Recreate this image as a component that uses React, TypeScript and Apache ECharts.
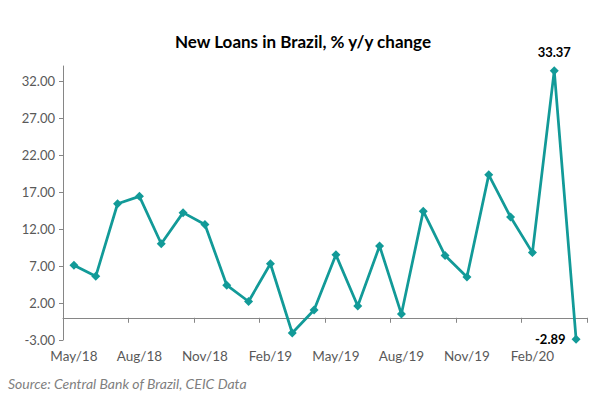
import React, { useEffect, useRef } from "react";
import * as echarts from "echarts";

const categories = [
  "May/18", "Jun/18", "Jul/18", "Aug/18", "Sep/18", "Oct/18", "Nov/18", "Dec/18",
  "Jan/19", "Feb/19", "Mar/19", "Apr/19", "May/19", "Jun/19", "Jul/19", "Aug/19",
  "Sep/19", "Oct/19", "Nov/19", "Dec/19", "Jan/20", "Feb/20", "Mar/20", "Apr/20",
];
const values = [
  7.1, 5.6, 15.4, 16.4, 10.0, 14.2, 12.6, 4.4,
  2.2, 7.3, -2.05, 1.05, 8.5, 1.6, 9.7, 0.5,
  14.4, 8.4, 5.5, 19.3, 13.6, 8.8, 33.37, -2.89,
];
const labelledIndices = [22, 23];
const titleText = "New Loans in Brazil, % y/y change";
const sourceText = "Source: Central Bank of Brazil, CEIC Data";

const COLOR = "#129a98";
const FONT = "Lato, 'Open Sans', sans-serif";

export default function App() {
  const ref = useRef<HTMLDivElement>(null);
  useEffect(() => {
    if (!ref.current) return;
    const chart = echarts.init(ref.current, null, { renderer: "svg" });
    const data = values.map((v, i) => {
      if (!labelledIndices.includes(i)) return v;
      return {
        value: v,
        label: {
          show: true,
          position: v >= 0 ? "top" : "left",
          distance: v >= 0 ? 8 : 6,
          formatter: (p: any) => Number(p.value).toFixed(2),
          color: "#000",
          fontWeight: "bold",
          fontSize: 13,
          fontFamily: FONT,
        },
      };
    });
    chart.setOption({
      animation: false,
      title: {
        text: titleText,
        left: "center",
        top: 28,
        textStyle: { fontFamily: FONT, fontSize: 17, fontWeight: "bold", color: "#000" },
      },
      graphic: [
        {
          type: "text",
          left: 8,
          top: 376,
          style: {
            text: sourceText,
            fontFamily: FONT,
            fontStyle: "italic",
            fontSize: 14,
            fill: "#7f7f7f",
          },
        },
      ],
      grid: { left: 63, right: 19, top: 66, bottom: 65, containLabel: false },
      xAxis: {
        type: "category",
        data: categories,
        boundaryGap: true,
        axisLine: { onZero: true, lineStyle: { color: "#868686", width: 1 } },
        axisTick: { show: true, interval: 2, length: 5, lineStyle: { color: "#868686" } },
        axisLabel: {
          interval: 2,
          margin: 9,
          color: "#595959",
          fontSize: 13.5,
          fontFamily: FONT,
        },
        splitLine: { show: false },
      },
      yAxis: {
        type: "value",
        min: -3,
        max: 34,
        interval: 5,
        axisLine: { show: true, lineStyle: { color: "#868686", width: 1 } },
        axisTick: { show: true, length: 4, lineStyle: { color: "#868686" } },
        axisLabel: {
          showMaxLabel: false,
          formatter: (v: number) => v.toFixed(2),
          color: "#595959",
          fontSize: 13,
          fontFamily: FONT,
          margin: 8,
        },
        splitLine: { show: false },
      },
      series: [
        {
          type: "line",
          data,
          symbol: "diamond",
          symbolSize: 9,
          showAllSymbol: true,
          lineStyle: { color: COLOR, width: 2.75 },
          itemStyle: { color: COLOR },
        },
      ],
    });
    return () => chart.dispose();
  }, []);
  return (
    <div
      ref={ref}
      style={{ position: "absolute", left: 0, top: 0, width: 606, height: 405 }}
    />
  );
}
